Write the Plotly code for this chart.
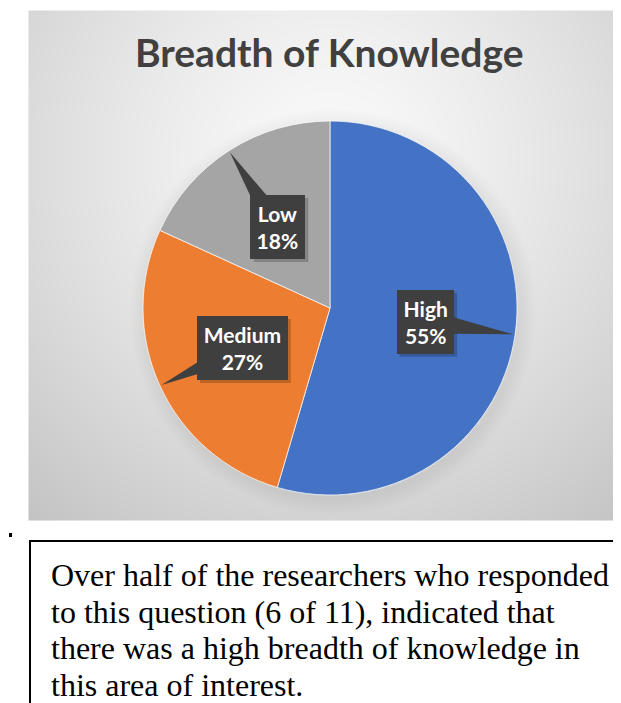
import numpy as np
import plotly.graph_objects as go

# ---- data ----
categories = ["High", "Medium", "Low"]
counts = [6, 3, 2]
colors = ["#4472C4", "#ED7D31", "#A5A5A5"]
title_text = "Breadth of Knowledge"
note_lines = [
    "Over half of the researchers who responded",
    "to this question (6 of 11), indicated that",
    "there was a high breadth of knowledge in",
    "this area of interest.",
]

W, H = 621, 703
CX, CY, R = 322, 300, 187          # pie centre / radius in pixels
BG = (22, 621, 4, 513)              # chart-image background box
LBL_SIZE = 21

# approximate Lato Bold advance widths (em) used to size the callout boxes
CW = {'H': .72, 'i': .26, 'g': .52, 'h': .57, 'M': .87, 'e': .53, 'd': .57,
      'u': .57, 'm': .86, 'L': .48, 'o': .57, 'w': .81, '%': .78}


def text_w(s):
    return sum(CW.get(c, .58) for c in s) * LBL_SIZE


fig = go.Figure()

# ---- background: radial gradient with soft shadow round the pie ----
xs = np.arange(BG[0], BG[1] + 1, 3.0)
ys = np.arange(BG[2], BG[3] + 1, 3.0)
X, Y = np.meshgrid(xs, ys)
d = np.sqrt((X - 321) ** 2 + (Y - 150) ** 2)
g = 250 - 55 * (d / 470) ** 1.3
rp = np.sqrt((X - CX - 2) ** 2 + (Y - CY - 3) ** 2)
shadow = np.clip(1 - (rp - R) / 16, 0, 1) * (rp > R - 5)
g = g - 14 * shadow
fig.add_trace(go.Heatmap(
    x=xs, y=ys, z=g, zmin=0, zmax=255, zsmooth="best",
    colorscale=[[0, "rgb(0,0,0)"], [1, "rgb(255,255,255)"]],
    showscale=False, hoverinfo="skip"))

# ---- pie ----
fig.add_trace(go.Pie(
    labels=categories, values=counts, sort=False, direction="clockwise",
    rotation=0, textinfo="none", hoverinfo="label+percent",
    marker=dict(colors=colors, line=dict(color="rgba(255,255,255,0.7)", width=1)),
    domain=dict(x=[(CX - R) / W, (CX + R) / W],
                y=[1 - (CY + R) / H, 1 - (CY - R) / H]),
    showlegend=False))

# ---- callout labels derived from the slice angles ----
total = sum(counts)
cum = 0
shapes = []
annotations = []
PAD = 6
for cat, v in zip(categories, counts):
    frac = v / total
    mid = (cum + frac / 2) * 2 * np.pi
    cum += frac
    ux, uy = np.sin(mid), -np.cos(mid)
    bx, by = CX + 0.515 * R * ux, CY + 0.515 * R * uy
    tx, ty = CX + 0.99 * R * ux, CY + 0.99 * R * uy
    px, py = -uy, ux
    hw = 12
    pct = f"{round(frac * 100)}%"
    tw = max(text_w(cat), text_w(pct)) + 2
    th = 52
    bw, bh = tw + 2 * PAD, th + 2 * PAD
    # drop shadow of the callout box
    shapes.append(dict(
        type="rect", xref="x", yref="y", layer="above",
        x0=bx - bw / 2 + 3, x1=bx + bw / 2 + 3, y0=by - bh / 2 + 3, y1=by + bh / 2 + 3,
        fillcolor="rgba(0,0,0,0.2)", line=dict(width=0)))
    # pointer wedge
    shapes.append(dict(
        type="path", xref="x", yref="y", layer="above",
        path=f"M {bx + px * hw},{by + py * hw} L {tx},{ty} L {bx - px * hw},{by - py * hw} Z",
        fillcolor="#3F3F3F", line=dict(width=0)))
    annotations.append(dict(
        x=bx, y=by, xref="x", yref="y", xanchor="center", yanchor="middle",
        text=f"{cat}<br>{pct}", showarrow=False, align="center", valign="middle",
        width=tw, height=th,
        font=dict(family="Lato", size=LBL_SIZE, color="white", weight="bold"),
        bgcolor="#3F3F3F", borderpad=PAD, borderwidth=0))

# ---- title ----
annotations.append(dict(
    x=321, y=44, xref="x", yref="y", xanchor="center", yanchor="middle",
    text=title_text, showarrow=False,
    font=dict(family="Lato", size=39, color="#404040", weight="bold")))

# ---- note box ----
shapes.append(dict(type="rect", xref="x", yref="y", x0=22, x1=620, y0=533, y1=712,
                   line=dict(color="black", width=2), fillcolor="rgba(0,0,0,0)"))
shapes.append(dict(type="rect", xref="x", yref="y", x0=1, x1=4, y0=525, y1=529,
                   line=dict(width=0), fillcolor="black"))
for i, line in enumerate(note_lines):
    annotations.append(dict(
        x=41, y=567 + i * 36.7, xref="x", yref="y", xanchor="left", yanchor="middle",
        text=line, showarrow=False,
        font=dict(family="Liberation Serif", size=32, color="black")))

fig.update_layout(
    width=W, height=H, margin=dict(l=0, r=0, t=0, b=0),
    paper_bgcolor="white", plot_bgcolor="white",
    xaxis=dict(range=[0, W], visible=False, fixedrange=True),
    yaxis=dict(range=[H, 0], visible=False, fixedrange=True),
    shapes=shapes, annotations=annotations)

fig.write_html("out.html")
